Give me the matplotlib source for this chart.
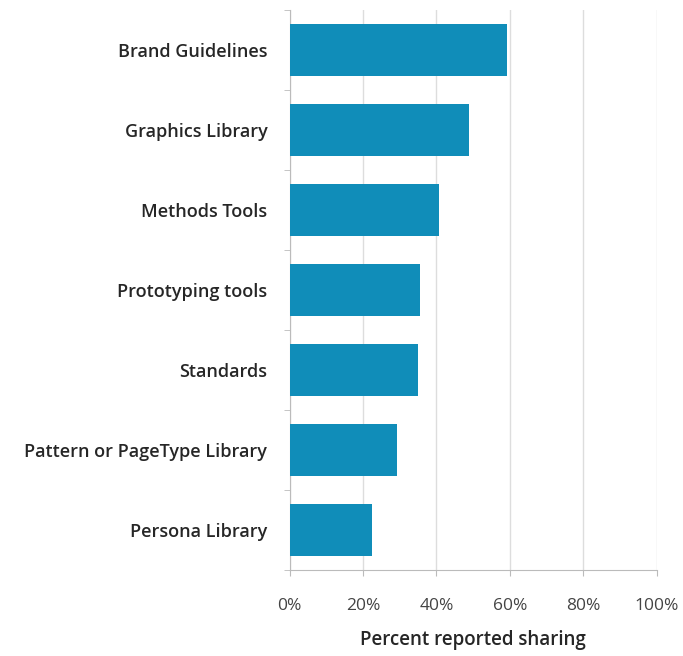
import matplotlib
matplotlib.use("Agg")
import matplotlib.pyplot as plt
import numpy as np
from matplotlib.ticker import FixedLocator

categories = [
    "Brand Guidelines",
    "Graphics Library",
    "Methods Tools",
    "Prototyping tools",
    "Standards",
    "Pattern or PageType Library",
    "Persona Library",
]
shares = [59.2, 49.0, 40.8, 35.6, 35.1, 29.2, 22.4]
x_ticks = [0, 20, 40, 60, 80, 100]
x_tick_labels = ["0%", "20%", "40%", "60%", "80%", "100%"]

plt.rcParams["font.family"] = ["Open Sans", "DejaVu Sans"]

fig = plt.figure(figsize=(6.83, 6.56), dpi=100)
ax = fig.add_axes([0.4239, 0.1311, 0.5376, 0.8537])

n = len(categories)
y = np.arange(n)[::-1]
ax.barh(y, shares, height=0.64, color="#108DB9", zorder=3)

ax.set_xlim(0, 100)
ax.set_ylim(-0.5, n - 0.5)

ax.set_xticks(x_ticks)
ax.set_xticklabels(x_tick_labels, fontsize=12.5, color="#444444")
ax.tick_params(axis="x", length=4, color="#BBBBBB", pad=16)

ax.set_yticks(y)
ax.set_yticklabels(categories, fontsize=13, color="#262626", fontweight="semibold")
ax.tick_params(axis="y", which="major", length=0, pad=16)
ax.yaxis.set_minor_locator(FixedLocator(np.arange(-0.5, n, 1.0)))
ax.tick_params(axis="y", which="minor", length=4, color="#BBBBBB", direction="out")

ax.grid(axis="x", color="#DDDDDD", linewidth=1, zorder=0)

for side in ["top", "right"]:
    ax.spines[side].set_visible(False)
for side in ["left", "bottom"]:
    ax.spines[side].set_color("#BBBBBB")

ax.set_xlabel("Percent reported sharing", fontsize=13.5, color="#262626",
              fontweight="semibold", labelpad=12)

fig.savefig("out.png", dpi=100)
